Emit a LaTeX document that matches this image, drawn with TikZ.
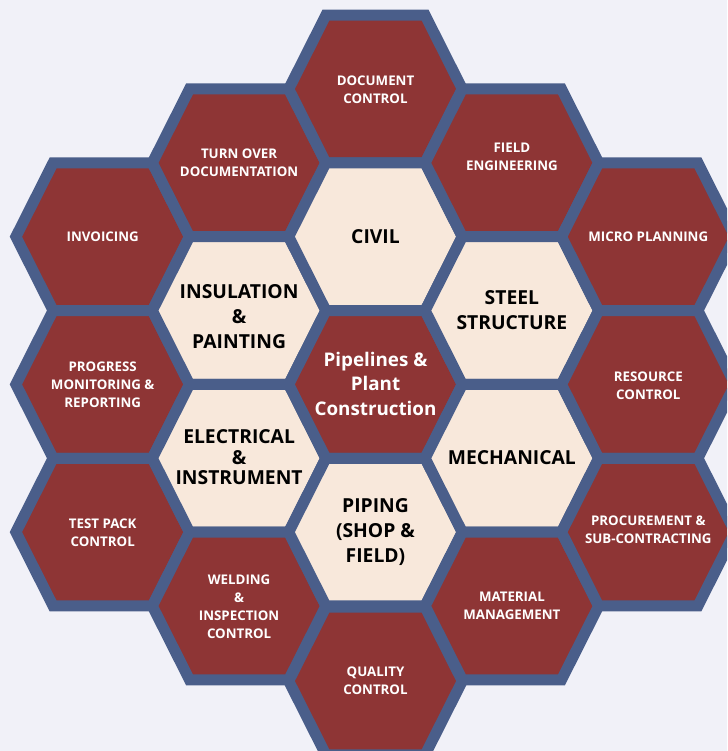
\documentclass[tikz,border=0pt]{standalone}
\usepackage{fontspec}
\setmainfont{Open Sans}
\definecolor{cellred}{HTML}{8E3535}
\definecolor{cellcream}{HTML}{F8E8DB}
\definecolor{cellblue}{HTML}{4A5E8A}
\definecolor{paper}{HTML}{F1F1F8}
\tikzset{
    redcell/.style={
        fill=cellred,
        draw=cellblue,
        line width=11pt,
    },
    creamcell/.style={
        fill=cellcream,
        draw=cellblue,
        line width=11pt,
    },
    redlabel/.style={
        text=white,
        align=center,
        font=\bfseries\fontsize{13.3}{18}\selectfont,
    },
    creamlabel/.style={
        text=black,
        align=center,
        font=\bfseries\fontsize{19.3}{25}\selectfont,
    },
}
% one cell of the honeycomb: style, x, y
\newcommand{\hexcell}[3]{%
    \filldraw[#1] (#2,#3) ++(-86.8,0) -- ++(37.2,-73.85) -- ++(99.2,0)
        -- ++(37.2,73.85) -- ++(-37.2,73.85) -- ++(-99.2,0) -- cycle;}

\begin{document}
\begin{tikzpicture}[x=1pt,y=-1pt]
    \useasboundingbox (0,0) rectangle (727,751);
    \fill[paper] (0,0) rectangle (727,751);
    \clip (0,0) rectangle (727,751);
    % left column
    \hexcell{redcell}{102.7}{236.7}
    \hexcell{redcell}{102.7}{384.4}
    \hexcell{redcell}{102.7}{532.1}
    % second column
    \hexcell{redcell}{239.1}{162.85}
    \hexcell{creamcell}{239.1}{310.55}
    \hexcell{creamcell}{239.1}{458.25}
    \hexcell{redcell}{239.1}{605.95}
    % middle column
    \hexcell{redcell}{375.5}{89}
    \hexcell{creamcell}{375.5}{236.7}
    \hexcell{redcell}{375.5}{384.4}
    \hexcell{creamcell}{375.5}{532.1}
    \hexcell{redcell}{375.5}{681}
    % fourth column
    \hexcell{redcell}{511.9}{162.85}
    \hexcell{creamcell}{511.9}{310.55}
    \hexcell{creamcell}{511.9}{458.25}
    \hexcell{redcell}{511.9}{605.95}
    % right column
    \hexcell{redcell}{648.3}{236.7}
    \hexcell{redcell}{648.3}{384.4}
    \hexcell{redcell}{648.3}{532.1}

    \node[redlabel] (invoicing) at (102.7,237) {INVOICING};
    \node[redlabel] (progress) at (102.7,385) {PROGRESS\\MONITORING \&\\REPORTING};
    \node[redlabel] (testpack) at (102.7,533) {TEST PACK\\CONTROL};
    \node[redlabel] (turnover) at (239.1,162.5) {TURN OVER\\DOCUMENTATION};
    \node[creamlabel] (insulation) at (239.1,316.5) {INSULATION\\\&\\PAINTING};
    \node[creamlabel] (electrical) at (239.1,457.5) {ELECTRICAL\\[-4.5pt]\&\\[-4.5pt]INSTRUMENT};
    \node[redlabel] (welding) at (239.1,607) {WELDING\\\&\\INSPECTION\\CONTROL};
    \node[redlabel] (document) at (375.5,90) {DOCUMENT\\CONTROL};
    \node[creamlabel] (civil) at (375.5,237) {CIVIL};
    \node[redlabel, font=\bfseries\fontsize{18.8}{24.5}\selectfont] (pipelines) at (375.5,383.5) {Pipelines \&\\Plant\\Construction};
    \node[creamlabel] (piping) at (375.5,532.5) {PIPING\\(SHOP \&\\FIELD)};
    \node[redlabel] (quality) at (375.5,681) {QUALITY\\CONTROL};
    \node[redlabel] (field) at (511.9,157) {FIELD\\ENGINEERING};
    \node[creamlabel] (steel) at (511.9,310) {STEEL\\STRUCTURE};
    \node[creamlabel] (mechanical) at (511.9,458) {MECHANICAL};
    \node[redlabel] (material) at (511.9,606) {MATERIAL\\MANAGEMENT};
    \node[redlabel] (micro) at (648.3,237) {MICRO PLANNING};
    \node[redlabel] (resource) at (648.3,386) {RESOURCE\\CONTROL};
    \node[redlabel] (procurement) at (648.3,530) {PROCUREMENT \&\\SUB-CONTRACTING};
\end{tikzpicture}
\end{document}
